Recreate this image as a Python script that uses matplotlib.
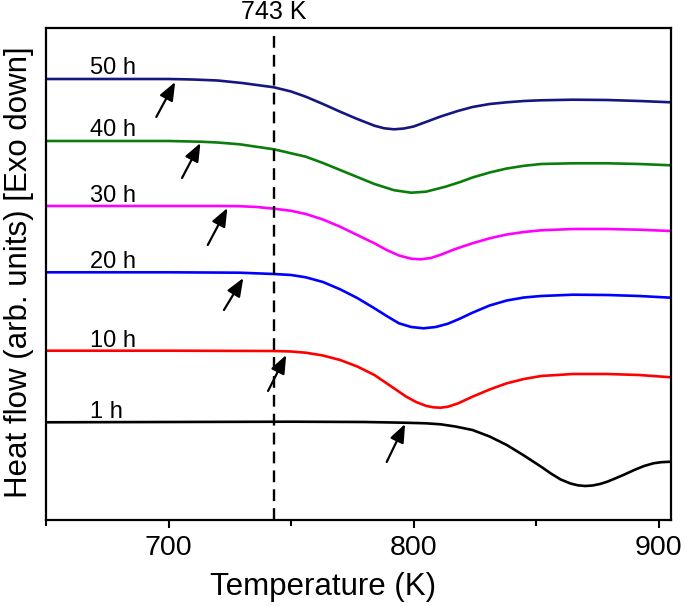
'''
DSC traces of the annealed samples, heat flow vs temperature (exo down)
'''

import matplotlib.pyplot as plt
from matplotlib.ticker import MultipleLocator

plt.rcParams['font.family'] = ['Liberation Sans', 'DejaVu Sans']

# annealing times
labels = ['1 h', '10 h', '20 h', '30 h', '40 h', '50 h']
colors = ['black', '#ff0000', '#0000ff', '#ff00ff', '#0a7d0a', '#161680']

# heat flow traces, arbitrary units (already vertically offset)
t_1h = [650, 700, 750, 780, 796, 805, 811, 817, 824, 831, 838, 845, 852, 856, 860, 864, 867, 870, 873, 876, 879, 882, 886, 890, 894, 898, 901, 905]
hf_1h = [97.7, 98, 98.3, 98, 97.3, 96.7, 95.7, 93.5, 90, 83.5, 75, 64.5, 53.3, 46.5, 40.5, 36.5, 34.7, 34, 34.5, 36, 38.3, 41.3, 45.5, 50, 54, 56.8, 57.8, 58.3]

t_10h = [650, 700, 743, 750, 756, 763, 770, 777, 784, 790, 797, 801, 805, 808, 811, 814, 818, 824, 831, 838, 845, 852, 865, 879, 892, 905]
hf_10h = [169.3, 169.3, 169, 168.5, 167.3, 164.5, 160, 153.5, 145, 135, 123.3, 118, 114.2, 112.7, 112.3, 113.3, 116.5, 123.3, 130.5, 136.7, 141, 144, 146, 146, 145, 142.7]

t_20h = [650, 700, 729, 743, 750, 756, 763, 770, 777, 784, 789, 794, 799, 804, 809, 814, 819, 824, 831, 838, 845, 852, 865, 879, 892, 905]
hf_20h = [247.7, 247.7, 247.3, 246, 245, 242.7, 238, 230.7, 222, 211.7, 204, 196.7, 193, 191.7, 193, 196.3, 201.5, 207.3, 214.5, 219.5, 222.5, 224, 225.3, 225, 224, 222.3]

t_30h = [650, 700, 720, 729, 736, 743, 750, 756, 763, 770, 777, 784, 789, 794, 799, 803, 807, 811, 817, 824, 831, 838, 845, 852, 865, 879, 892, 905]
hf_30h = [314, 314, 314, 313.8, 313, 311.3, 309.2, 306, 300.5, 293.3, 285, 276.7, 270, 264.5, 261.3, 260.7, 262, 265.2, 271, 276.7, 281.7, 285.5, 288, 289.7, 291, 291, 290.3, 289]

t_40h = [650, 700, 713, 720, 729, 743, 756, 763, 770, 777, 784, 792, 799, 805, 813, 819, 824, 831, 838, 845, 852, 865, 879, 892, 905]
hf_40h = [379, 379, 378.3, 377.5, 375.7, 370.7, 363.3, 357, 350, 343, 336, 329.8, 327.3, 328.3, 333.3, 338, 342.5, 347.5, 351.5, 354.2, 356, 356.7, 356.7, 356, 354.7]

t_50h = [650, 700, 710, 720, 730, 743, 750, 756, 763, 770, 777, 784, 788, 792, 796, 800, 805, 811, 818, 824, 831, 838, 845, 852, 865, 879, 892, 905]
hf_50h = [441, 441, 440.5, 439.5, 437, 432.7, 428.5, 423.3, 416, 408.3, 401, 394.3, 391.7, 390.7, 391.5, 393.5, 398, 403.5, 409, 413, 416, 417.7, 419, 419.7, 420.3, 420, 419, 417.7]

temps = [t_1h, t_10h, t_20h, t_30h, t_40h, t_50h]
flows = [hf_1h, hf_10h, hf_20h, hf_30h, hf_40h, hf_50h]

# where the label of each trace sits
label_y = [101.7, 172.7, 251.7, 318, 384, 446]
label_t = 668

# onset arrows: tail (T, hf) -> tip (T, hf)
arrow_tail_t = [789, 740.6, 722.6, 716, 705.5, 695]
arrow_tail_hf = [58, 129, 210, 275, 342, 403]
arrow_tip_t = [796.5, 748, 730.5, 724, 713, 702.7]
arrow_tip_hf = [96, 165, 242, 312, 377, 438]

t_mark = 743


def plot_dsc():
	fig = plt.figure(figsize=(6.85, 6.06), dpi=100)
	ax = fig.add_axes([46/685, 1 - 520/606, 625/685, 492/606])

	for t, hf, c in zip(temps, flows, colors):
		ax.plot(t, hf, color=c, lw=1.9, solid_joinstyle='round')

	for lab, y in zip(labels, label_y):
		ax.text(label_t, y, lab, fontsize=17, va='baseline', ha='left')

	for t0, h0, t1, h1 in zip(arrow_tail_t, arrow_tail_hf, arrow_tip_t, arrow_tip_hf):
		ax.annotate('', xy=(t1, h1), xytext=(t0, h0),
					arrowprops=dict(arrowstyle='-|>,head_length=0.55,head_width=0.22', color='black', lw=1.6,
									mutation_scale=20, shrinkA=0, shrinkB=0))

	ax.axvline(t_mark, color='black', lw=1.7, linestyle=(0, (5, 3)))
	ax.text(t_mark, 507.5, f'{t_mark} K', fontsize=18, ha='center', va='center', clip_on=False)

	ax.set_xlim(650, 905)
	ax.set_ylim(0, 492)
	ax.set_yticks([])
	ax.xaxis.set_major_locator(MultipleLocator(100))
	ax.xaxis.set_minor_locator(MultipleLocator(50))
	ax.tick_params(axis='x', which='major', direction='out', length=6, width=1.5, labelsize=20.5, pad=5)
	ax.tick_params(axis='x', which='minor', direction='out', length=4, width=1.5)
	for s in ax.spines.values():
		s.set_linewidth(1.6)

	fig.text(323/685, 1 - 587/606, 'Temperature (K)', fontsize=22.5, ha='center', va='center')
	fig.text(19/685, 1 - 272/606, 'Heat flow (arb. units) [Exo down]', fontsize=22.5,
			 ha='center', va='center', rotation=90)

	fig.savefig('out.png', dpi=100)


if __name__ == '__main__':
	plot_dsc()
